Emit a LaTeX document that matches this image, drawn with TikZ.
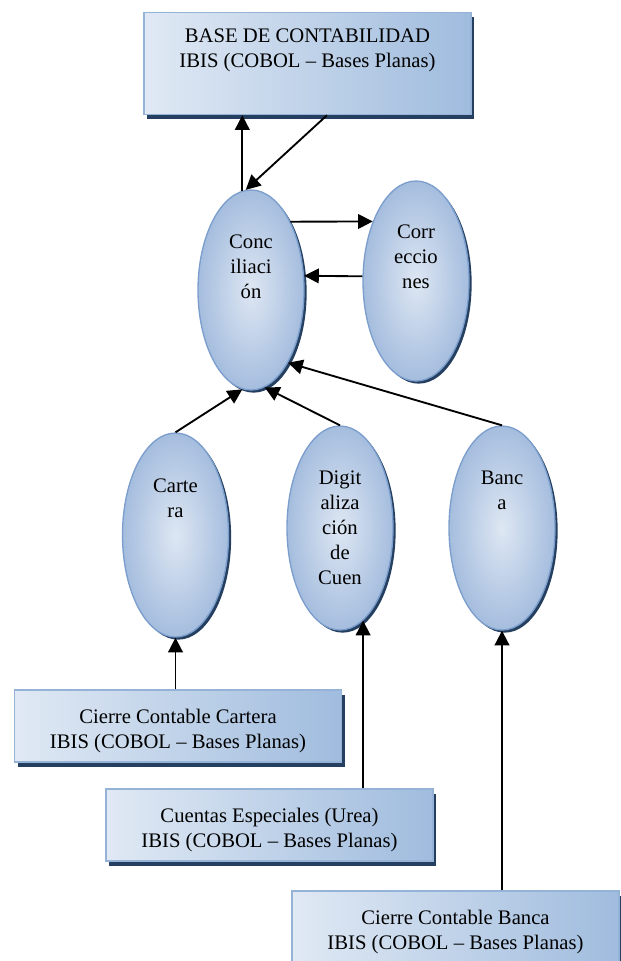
\documentclass[tikz,border=0pt]{standalone}
\usepackage{fontspec}
\setmainfont{Liberation Serif}
\usepackage{tikz}
\usetikzlibrary{shapes.geometric, arrows.meta, positioning, calc, shadows}
\definecolor{boxLight}{RGB}{224,233,244}
\definecolor{boxBlue}{RGB}{160,188,222}
\definecolor{boxEdge}{RGB}{149,179,215}
\definecolor{ovalEdge}{RGB}{124,158,205}
\definecolor{ovalLight}{RGB}{222,231,243}
\definecolor{ovalBlue}{RGB}{165,189,222}
\definecolor{shadowNavy}{RGB}{36,63,96}

\begin{document}
\begin{tikzpicture}[
    x=0.75pt, y=-0.75pt,
    font=\fontsize{15.5pt}{18.75pt}\selectfont,
    box/.style={rectangle, draw=boxEdge, line width=1.1pt, left color=boxLight, right color=boxBlue, minimum width=245.25pt, minimum height=54pt, inner sep=0pt, drop shadow={shadow xshift=2.25pt, shadow yshift=-3.4pt, fill=shadowNavy, opacity=1}},
    bubble/.style={ellipse, draw=ovalEdge, line width=1pt, inner color=ovalLight, outer color=ovalBlue, minimum width=79.5pt, minimum height=150pt, inner sep=0pt, drop shadow={shadow xshift=2pt, shadow yshift=-2pt, fill=shadowNavy, opacity=1}},
    txt/.style={align=center, inner sep=0pt, anchor=north},
    arrow/.style={-{Triangle[length=11pt, width=11pt]}, line width=1.4pt}
]
\useasboundingbox (0,0) rectangle (621,961);
\clip (0,0) rectangle (621,961);

% Base de contabilidad
\node[box, minimum height=76.5pt] (base) at (307.5,63.5) {};
\node[txt, below=12.75pt of base.north] (basetxt) {BASE DE CONTABILIDAD\\IBIS (COBOL -- Bases Planas)};

% Conciliacion y correcciones
\node[bubble] (conc) at (251,290) {};
\node[txt, below=33.75pt of conc.north] (conctxt) {Conc\\iliaci\\ón};
\node[bubble] (corr) at (416,281) {};
\node[txt, below=33pt of corr.north] (corrtxt) {Corr\\eccio\\nes};

% Fuentes
\node[bubble, minimum height=153pt] (carte) at (175.5,535) {};
\node[txt, below=34.5pt of carte.north] (cartetxt) {Carte\\ra};
\node[bubble, minimum height=153pt] (digit) at (340,528) {};
\node[txt, below=33.75pt of digit.north] (digittxt) {Digit\\aliza\\ción\\de\\Cuen};
\node[bubble, minimum height=153pt] (banca) at (502,528) {};
\node[txt, below=33.75pt of banca.north] (bancatxt) {Banc\\a};

% Cierres
\node[box] (cierrecart) at (178,726) {};
\node[txt, below=15pt of cierrecart.north] (cierrecarttxt) {Cierre Contable Cartera\\IBIS (COBOL -- Bases Planas)};
\node[box] (cuentas) at (269.5,825) {};
\node[txt, below=14.5pt of cuentas.north] (cuentastxt) {Cuentas Especiales (Urea)\\IBIS (COBOL -- Bases Planas)};
\node[box] (cierreban) at (455.5,927) {};
\node[txt, below=15pt of cierreban.north] (cierrebantxt) {Cierre Contable Banca\\IBIS (COBOL -- Bases Planas)};

% Arrows
\draw[arrow] (conc.95) -- (conc.95 |- base.south);
\draw[arrow] ([xshift=14.6pt]base.south) -- (conc.93);
\draw[arrow] (conc.60) -- (corr.126);
\draw[arrow] (corr.175) -- (conc.15);
\draw[arrow] (carte.north) -- (conc.265);
\draw[arrow] (digit.north) -- (conc.278);
\draw[arrow] (banca.north) -- (conc.297);
\draw[arrow] (carte.south |- cierrecart.north) -- (carte.south);
\draw[arrow] (digit.284 |- cuentas.north) -- (digit.284);
\draw[arrow] (banca.south |- cierreban.north) -- (banca.south);

\end{tikzpicture}
\end{document}
